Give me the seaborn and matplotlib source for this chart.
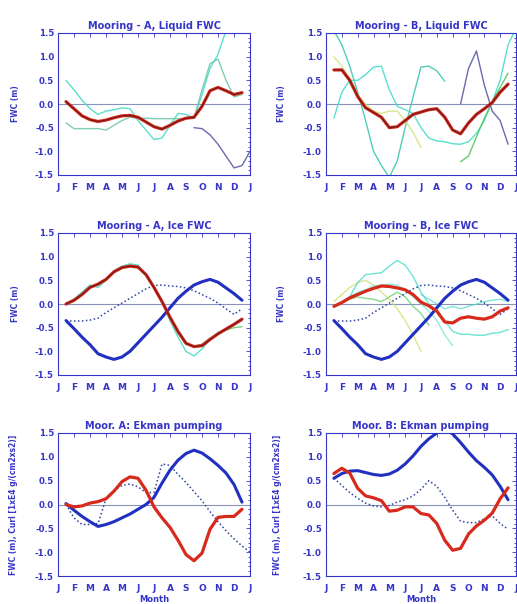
import numpy as np
import pandas as pd
import matplotlib
matplotlib.use("Agg")
import matplotlib.pyplot as plt
import seaborn as sns
from matplotlib.ticker import MultipleLocator, FormatStrFormatter

nan = np.nan

# half-month grid, Jan = 0
months = [0.5, 1.0, 1.5, 2.0, 2.5, 3.0, 3.5, 4.0, 4.5, 5.0, 5.5, 6.0,
          6.5, 7.0, 7.5, 8.0, 8.5, 9.0, 9.5, 10.0, 10.5, 11.0, 11.5, 12.0]
month_labels = ['J', 'F', 'M', 'A', 'M', 'J', 'J', 'A', 'S', 'O', 'N', 'D', 'J']

# Mooring A, liquid FWC
a_liq_red = [0.05, -0.10, -0.25, -0.33, -0.37, -0.34, -0.29, -0.25, -0.24, -0.28, -0.38, -0.48,
             -0.53, -0.45, -0.36, -0.30, -0.28, -0.05, 0.28, 0.35, 0.28, 0.20, 0.24, nan]
a_liq_cyan1 = [0.50, 0.30, 0.08, -0.10, -0.22, -0.15, -0.12, -0.08, -0.10, -0.35, -0.55, -0.75,
               -0.72, -0.45, -0.20, -0.22, -0.30, 0.20, 0.75, 1.05, 1.55, nan, nan, nan]
a_liq_cyan2 = [-0.40, -0.52, -0.52, -0.52, -0.52, -0.55, -0.45, -0.35, -0.28, -0.30, -0.30, -0.31,
               -0.31, -0.31, -0.31, -0.31, -0.30, 0.30, 0.85, 0.95, 0.50, 0.15, 0.20, nan]
a_liq_purple = [nan] * 16 + [-0.50, -0.52, -0.65, -0.85, -1.10, -1.35, -1.30, -1.00]

# Mooring B, liquid FWC
b_liq_red = [0.72, 0.72, 0.50, 0.16, -0.08, -0.18, -0.28, -0.50, -0.48, -0.35, -0.22, -0.17,
             -0.12, -0.10, -0.28, -0.55, -0.63, -0.40, -0.22, -0.10, 0.03, 0.25, 0.42, nan]
b_liq_teal = [1.55, 1.25, 0.80, 0.25, -0.35, -1.00, -1.30, -1.55, -1.20, -0.50, 0.15, 0.78,
              0.80, 0.70, 0.48, nan, nan, nan, nan, nan, nan, nan, nan, nan]
b_liq_cyan = [-0.30, 0.25, 0.50, 0.50, 0.62, 0.78, 0.80, 0.30, -0.05, -0.12, -0.20, -0.50,
              -0.72, -0.78, -0.80, -0.84, -0.85, -0.80, -0.62, -0.35, 0.05, 0.50, 1.25, 1.60]
b_liq_yellow = [1.00, 0.80, 0.55, 0.20, 0.00, -0.15, -0.20, -0.15, -0.15, -0.35, -0.60, -0.92,
                nan, nan, nan, nan, nan, nan, nan, nan, nan, nan, nan, nan]
b_liq_green = [nan] * 16 + [-1.22, -1.10, -0.70, -0.30, 0.05, 0.35, 0.65, nan]
b_liq_purple = [nan] * 16 + [0.00, 0.75, 1.12, 0.40, -0.15, -0.35, -0.85, nan]

# Ice FWC (model curves shared by both moorings)
ice_blue = [-0.35, -0.52, -0.70, -0.86, -1.05, -1.12, -1.17, -1.12, -1.00, -0.82, -0.64, -0.46,
            -0.28, -0.08, 0.12, 0.27, 0.40, 0.47, 0.52, 0.46, 0.34, 0.22, 0.08, nan]
ice_dotted = [-0.36, -0.36, -0.36, -0.34, -0.30, -0.18, -0.08, 0.02, 0.12, 0.22, 0.32, 0.39,
              0.40, 0.38, 0.37, 0.34, 0.28, 0.20, 0.12, 0.02, -0.10, -0.22, -0.10, nan]

a_ice_red = [0.00, 0.08, 0.20, 0.35, 0.42, 0.52, 0.68, 0.77, 0.80, 0.78, 0.62, 0.35,
             0.05, -0.28, -0.58, -0.83, -0.90, -0.88, -0.75, -0.63, -0.53, -0.43, -0.32, nan]
a_ice_cyan = [-0.02, 0.10, 0.25, 0.40, 0.35, 0.50, 0.70, 0.80, 0.85, 0.82, 0.60, 0.35,
              0.05, -0.35, -0.70, -1.00, -1.10, -0.95, -0.75, -0.60, -0.55, -0.45, -0.35, nan]
a_ice_green = [0.00, 0.05, 0.20, 0.38, 0.40, 0.50, 0.68, 0.78, 0.82, 0.80, 0.62, 0.36,
               0.05, -0.30, -0.62, -0.85, -0.90, -0.85, -0.72, -0.62, -0.55, -0.50, -0.48, nan]

b_ice_red = [-0.05, 0.03, 0.13, 0.20, 0.27, 0.33, 0.38, 0.37, 0.34, 0.30, 0.20, 0.04,
             -0.04, -0.15, -0.38, -0.40, -0.30, -0.27, -0.30, -0.32, -0.27, -0.15, -0.08, nan]
b_ice_cyan1 = [-0.05, 0.02, 0.15, 0.45, 0.62, 0.64, 0.66, 0.80, 0.92, 0.82, 0.58, 0.25,
               0.00, -0.15, -0.35, -0.58, -0.64, -0.64, -0.66, -0.66, -0.62, -0.60, -0.54, nan]
b_ice_cyan2 = [-0.05, 0.05, 0.15, 0.25, 0.30, 0.38, 0.40, 0.42, 0.40, 0.30, 0.15, 0.00,
               -0.15, -0.35, -0.65, -0.88, nan, nan, nan, nan, nan, nan, nan, nan]
b_ice_cyan3 = [nan] * 11 + [0.20, 0.10, 0.00, -0.10, -0.05, -0.10, -0.05, 0.00, 0.05, 0.08, 0.10, 0.05, nan]
b_ice_yellow = [0.05, 0.20, 0.35, 0.45, 0.50, 0.40, 0.25, 0.10, -0.10, -0.35, -0.65, -1.00] + [nan] * 12
b_ice_green = [-0.05, 0.05, 0.10, 0.15, 0.12, 0.10, 0.05, 0.15, 0.25, 0.15, -0.05, -0.20, -0.45] + [nan] * 11

# Ekman pumping
a_ek_red = [0.00, -0.05, -0.03, 0.03, 0.06, 0.12, 0.28, 0.48, 0.58, 0.55, 0.30, -0.05,
            -0.28, -0.48, -0.75, -1.05, -1.18, -1.02, -0.52, -0.27, -0.25, -0.25, -0.10, nan]
a_ek_blue = [0.02, -0.12, -0.25, -0.36, -0.46, -0.42, -0.36, -0.28, -0.20, -0.10, 0.00, 0.15,
             0.45, 0.72, 0.93, 1.07, 1.14, 1.08, 0.96, 0.82, 0.66, 0.42, 0.05, nan]
a_ek_dot = [0.00, -0.28, -0.42, -0.42, -0.40, 0.12, 0.30, 0.40, 0.43, 0.37, 0.25, 0.25,
            0.85, 0.82, 0.63, 0.46, 0.27, 0.08, -0.15, -0.36, -0.55, -0.72, -0.87, -1.00]

b_ek_red = [0.65, 0.76, 0.66, 0.34, 0.18, 0.14, 0.08, -0.14, -0.12, -0.05, -0.05, -0.19,
            -0.22, -0.40, -0.75, -0.96, -0.92, -0.62, -0.45, -0.33, -0.18, 0.12, 0.35, nan]
b_ek_blue = [0.55, 0.65, 0.70, 0.71, 0.67, 0.63, 0.61, 0.64, 0.72, 0.85, 1.02, 1.22,
             1.38, 1.50, 1.58, 1.48, 1.30, 1.10, 0.92, 0.78, 0.62, 0.38, 0.10, nan]
b_ek_dot = [0.55, 0.40, 0.25, 0.13, 0.03, -0.03, -0.05, -0.02, 0.05, 0.10, 0.18, 0.32,
            0.50, 0.38, 0.15, -0.12, -0.35, -0.38, -0.38, -0.30, -0.24, -0.40, -0.52, nan]

BLUE = '#3535c8'
RED = '#d82a1c'
THICK = '#2030c0'
DOT = '#2c44a0'
CYAN = '#48dcc8'
GREEN = '#55c860'
YELLOW = '#cfe070'
PURPLE = '#6a6aae'
DOTS = (0, (1, 1.6))

sns.set_theme(style="white")
plt.rcParams['font.family'] = ['DejaVu Sans']
plt.rcParams['font.weight'] = 'bold'


def draw(ax, vals, color, lw, ls='-', alpha=1.0, z=2):
    d = pd.DataFrame({'month': months, 'fwc': vals}).dropna()
    sns.lineplot(data=d, x='month', y='fwc', ax=ax, color=color, lw=lw,
                 linestyle=ls, alpha=alpha, zorder=z, legend=False)


def red_line(ax, vals, core=True):
    draw(ax, vals, RED, 2.3, z=5)
    if core:
        draw(ax, vals, '#7a1a18', 0.9, z=6)


def style(ax, title, ylabel, xlab_x, bottom=False):
    ax.set_xlim(0, 12)
    ax.set_ylim(-1.5, 1.5)
    ax.axhline(0, color='#8a92bc', lw=0.8, zorder=1)
    ax.set_xticks(range(13))
    ax.set_xticklabels(month_labels)
    ax.yaxis.set_major_locator(MultipleLocator(0.5))
    ax.yaxis.set_minor_locator(MultipleLocator(0.1))
    ax.yaxis.set_major_formatter(FormatStrFormatter('%.1f'))
    ax.tick_params(which='both', direction='in', top=True, right=True,
                   colors=BLUE, width=0.6)
    ax.tick_params(which='major', length=3)
    ax.tick_params(which='minor', length=1.5)
    ax.tick_params(axis='x', labelsize=6.5, pad=6)
    ax.tick_params(axis='y', labelsize=6.2, pad=3)
    for s in ax.spines.values():
        s.set_color(BLUE)
        s.set_linewidth(0.8)
    ax.set_title(title, color=BLUE, fontsize=7, fontweight='bold', pad=3)
    ax.set_ylabel(ylabel, color=BLUE, fontsize=5.5, fontweight='bold')
    ax.yaxis.set_label_coords(xlab_x, 0.5)
    if bottom:
        ax.set_xlabel('Month', color=BLUE, fontsize=6, fontweight='bold', labelpad=1)
    else:
        ax.set_xlabel('')


W, H = 517, 604
fig = plt.figure(figsize=(W / 100, H / 100), dpi=100)
fig.patch.set_facecolor('white')

lefts = [58 / W, 326 / W]
widths = [192 / W, 190 / W]
tops = [33, 233, 433]
hts = [142, 142, 143]
axes = []
for r in range(3):
    row = []
    for c in range(2):
        ax = fig.add_axes([lefts[c], 1 - (tops[r] + hts[r]) / H, widths[c], hts[r] / H])
        ax.set_facecolor('white')
        row.append(ax)
    axes.append(row)

# Row 1: liquid FWC
ax = axes[0][0]
draw(ax, a_liq_cyan1, CYAN, 1.0, alpha=0.9)
draw(ax, a_liq_cyan2, '#6fc8b0', 1.0, alpha=0.9)
draw(ax, a_liq_purple, PURPLE, 1.0)
red_line(ax, a_liq_red)
style(ax, 'Mooring - A, Liquid FWC', 'FWC (m)', -0.2)

ax = axes[0][1]
draw(ax, b_liq_teal, '#3cc8b0', 1.0, alpha=0.9)
draw(ax, b_liq_cyan, CYAN, 1.0, alpha=0.9)
draw(ax, b_liq_yellow, YELLOW, 1.0, alpha=0.8)
draw(ax, b_liq_green, GREEN, 1.0, alpha=0.9)
draw(ax, b_liq_purple, PURPLE, 1.0)
red_line(ax, b_liq_red)
style(ax, 'Mooring - B, Liquid FWC', 'FWC (m)', -0.21)

# Row 2: ice FWC
ax = axes[1][0]
draw(ax, a_ice_green, GREEN, 1.0, alpha=0.8)
draw(ax, a_ice_cyan, CYAN, 1.0, alpha=0.9)
draw(ax, ice_dotted, DOT, 1.1, ls=DOTS, z=3)
draw(ax, ice_blue, THICK, 2.2, z=4)
red_line(ax, a_ice_red)
style(ax, 'Mooring - A, Ice FWC', 'FWC (m)', -0.2)

ax = axes[1][1]
draw(ax, b_ice_yellow, YELLOW, 1.0, alpha=0.8)
draw(ax, b_ice_green, GREEN, 1.0, alpha=0.7)
draw(ax, b_ice_cyan1, CYAN, 1.0, alpha=0.8)
draw(ax, b_ice_cyan2, '#7fe4d4', 1.0, alpha=0.8)
draw(ax, b_ice_cyan3, CYAN, 1.0, alpha=0.7)
draw(ax, ice_dotted, DOT, 1.1, ls=DOTS, z=3)
draw(ax, ice_blue, THICK, 2.2, z=4)
red_line(ax, b_ice_red, core=False)
style(ax, 'Mooring - B, Ice FWC', 'FWC (m)', -0.21)

# Row 3: Ekman pumping
ylab = 'FWC (m), Curl [1xE4 g/(cm2xs2)]'
ax = axes[2][0]
draw(ax, a_ek_dot, DOT, 1.1, ls=DOTS, z=3)
draw(ax, a_ek_blue, THICK, 2.2, z=4)
red_line(ax, a_ek_red, core=False)
style(ax, 'Moor. A: Ekman pumping', ylab, -0.21, bottom=True)

ax = axes[2][1]
draw(ax, b_ek_dot, DOT, 1.1, ls=DOTS, z=3)
draw(ax, b_ek_blue, THICK, 2.2, z=4)
red_line(ax, b_ek_red, core=False)
style(ax, 'Moor. B: Ekman pumping', ylab, -0.23, bottom=True)

fig.savefig('out.png', dpi=100, facecolor='white')
